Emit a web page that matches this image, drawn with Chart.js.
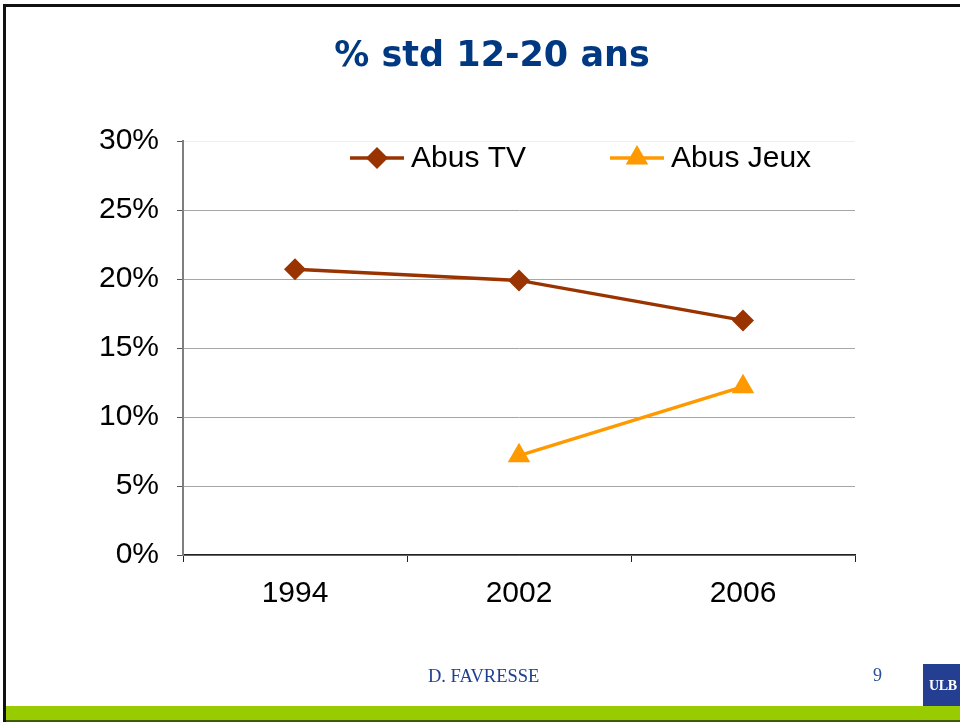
<!DOCTYPE html>
<html>
<head>
<meta charset="utf-8">
<script src="https://cdn.jsdelivr.net/npm/chart.js@4.4.0/dist/chart.umd.min.js"></script>
<style>
  html, body { margin: 0; padding: 0; background: #fff; }
  #slide { position: relative; width: 960px; height: 722px; overflow: hidden; background: #fff; }
  #chart { position: absolute; left: 0; top: 0; }
  .bar { position: absolute; }
  #title { position: absolute; left: 0; width: 984px; top: 34px; text-align: center;
    font: bold 35px "DejaVu Sans", Verdana, sans-serif; color: #003882; }
  #author { position: absolute; left: 428px; top: 666px; font: 18.5px "Liberation Serif", "Times New Roman", serif; color: #1f3f8f; }
  #page { position: absolute; left: 873px; top: 665px; font: 18px "Liberation Serif", "Times New Roman", serif; color: #2c4e9a; }
  #ulb { position: absolute; left: 923px; top: 664px; width: 37px; height: 42px; background: #243f91;
    color: #fff; font: bold 14px "Liberation Serif", serif; line-height: 44px; text-align: left; text-indent: 6px; white-space: nowrap; letter-spacing: -0.3px; }
</style>
</head>
<body>
<div id="slide">
  <canvas id="chart" width="960" height="722"></canvas>
  <div class="bar" style="left:3px;top:4px;width:957px;height:3px;background:#111;"></div>
  <div class="bar" style="left:3px;top:4px;width:3px;height:718px;background:#111;"></div>
  <div class="bar" style="left:6px;top:706px;width:954px;height:14px;background:#99cc00;"></div>
  <div class="bar" style="left:6px;top:720px;width:954px;height:2px;background:#3d5a00;"></div>
  <div id="title">% std 12-20 ans</div>
  <div id="author">D. FAVRESSE</div>
  <div id="page">9</div>
  <div id="ulb">ULB</div>
</div>
<script>
// data
const years = ['1994', '2002', '2006'];
const abusTV = [20.7, 19.9, 17.0];
const abusJeux = [null, 7.2, 12.2];
const yTicks = [0, 5, 10, 15, 20, 25, 30];

const FONT = '"Liberation Sans", Arial, sans-serif';

// legend drawn inside the plot area, like the original
const insideLegend = {
  id: 'insideLegend',
  afterDraw(chart) {
    const ctx = chart.ctx, a = chart.chartArea;
    const y = a.top + 17;
    const items = [
      { x: a.left + 167, ds: chart.data.datasets[0] },
      { x: a.left + 427, ds: chart.data.datasets[1] }
    ];
    ctx.save();
    items.forEach(it => {
      const ds = it.ds;
      ctx.strokeStyle = ds.borderColor;
      ctx.lineWidth = ds.borderWidth;
      ctx.beginPath();
      ctx.moveTo(it.x, y);
      ctx.lineTo(it.x + 54, y);
      ctx.stroke();
      const cx = it.x + 27, r = ds.pointRadius;
      ctx.fillStyle = ds.pointBackgroundColor;
      ctx.beginPath();
      if (ds.pointStyle === 'rectRot') {
        ctx.moveTo(cx, y - r); ctx.lineTo(cx + r, y); ctx.lineTo(cx, y + r); ctx.lineTo(cx - r, y);
      } else {
        ctx.moveTo(cx, y - r);
        ctx.lineTo(cx + r * Math.sin(2 * Math.PI / 3), y + r / 2);
        ctx.lineTo(cx - r * Math.sin(2 * Math.PI / 3), y + r / 2);
      }
      ctx.closePath();
      ctx.fill();
      ctx.fillStyle = '#000';
      ctx.font = '30px ' + FONT;
      ctx.textBaseline = 'middle';
      ctx.fillText(ds.label, it.x + 61, y + 1);
    });
    ctx.restore();
  }
};

new Chart(document.getElementById('chart').getContext('2d'), {
  type: 'line',
  data: {
    labels: years,
    datasets: [
      {
        label: 'Abus TV',
        data: abusTV,
        borderColor: '#993300',
        backgroundColor: '#993300',
        pointBackgroundColor: '#993300',
        pointBorderWidth: 0,
        borderWidth: 3.5,
        pointStyle: 'rectRot',
        pointRadius: 11,
        tension: 0
      },
      {
        label: 'Abus Jeux',
        data: abusJeux,
        borderColor: '#ff9900',
        backgroundColor: '#ff9900',
        pointBackgroundColor: '#ff9900',
        pointBorderWidth: 0,
        borderWidth: 3.5,
        pointStyle: 'triangle',
        pointRadius: 13,
        tension: 0
      }
    ]
  },
  options: {
    responsive: false,
    animation: false,
    events: [],
    layout: { padding: { left: 0, top: 141, right: 105, bottom: 0 } },
    plugins: {
      legend: { display: false },
      title: { display: false },
      tooltip: { enabled: false }
    },
    scales: {
      x: {
        offset: true,
        afterFit: s => { s.height = 167; },
        border: { color: '#222', width: 1.5 },
        grid: { offset: true, drawOnChartArea: false, drawTicks: true, tickLength: 7, color: '#222' },
        ticks: { color: '#000', font: { family: FONT, size: 30 }, padding: 14 }
      },
      y: {
        min: 0,
        max: 30,
        afterFit: s => { s.width = 183; },
        afterBuildTicks: s => { s.ticks = yTicks.map(v => ({ value: v })); },
        border: { color: '#7f7f7f', width: 2 },
        grid: {
          color: c => c.tick && c.tick.value === 30 ? '#eeeeee' : '#a6a6a6',
          tickColor: '#555',
          tickLength: 6,
          lineWidth: 1
        },
        ticks: {
          color: '#000',
          font: { family: FONT, size: 30 },
          padding: 18,
          callback: v => v + '%'
        }
      }
    }
  },
  plugins: [insideLegend]
});
</script>
</body>
</html>
